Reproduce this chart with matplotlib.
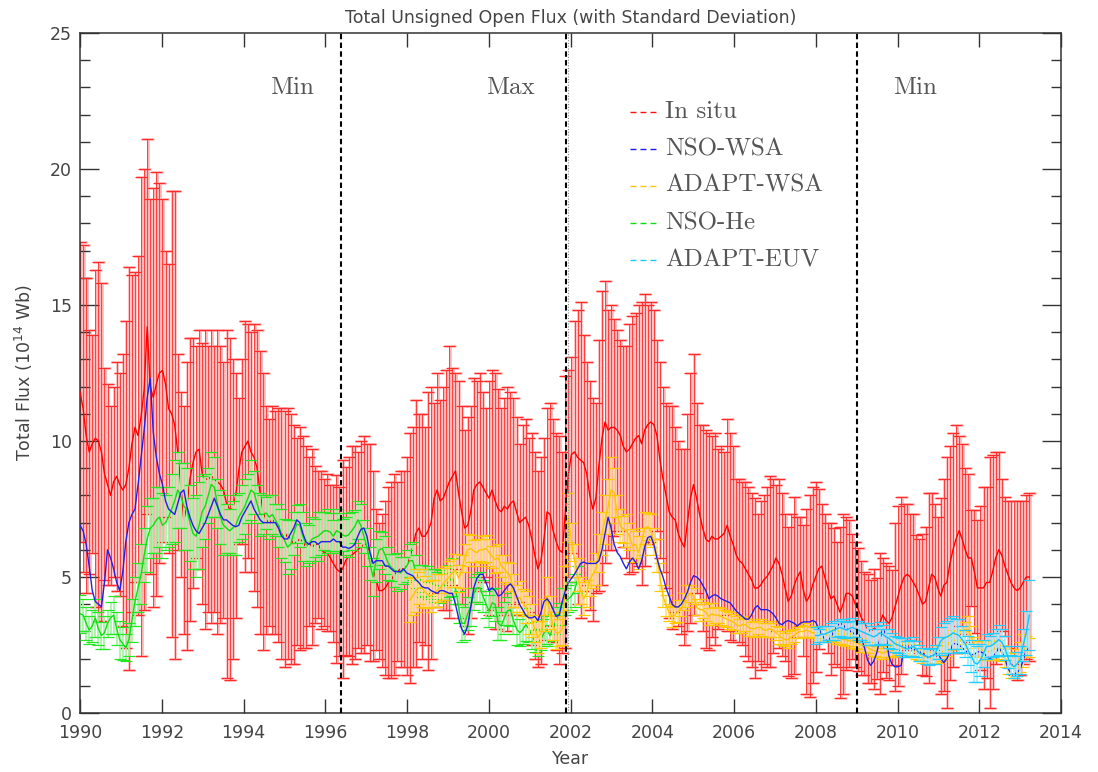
import numpy as np
import matplotlib
matplotlib.use("Agg")
import matplotlib.pyplot as plt
from matplotlib.ticker import MultipleLocator

# Carrington-rotation cadence of all series (years)
CR_YEARS = 27.2753 / 365.25
START_YEAR = 1990.0

# In situ total open flux (1e14 Wb), one value per rotation from 1990.0
insitu_mean = [
    11.8, 11.2, 10.2, 9.6, 9.9, 10.1, 10.0, 9.6, 8.8, 8.4, 8.0, 8.5, 8.7, 8.4,
    8.2, 8.4, 9.0, 9.9, 10.5, 10.2, 10.9, 11.9, 14.2, 12.0, 11.6, 12.1, 12.5,
    12.6, 12.1, 11.2, 11.0, 10.6, 9.6, 8.4, 7.1, 7.6, 8.6, 9.2, 9.6, 9.7, 8.8,
    8.6, 8.6, 8.7, 8.6, 8.5, 8.4, 8.2, 7.7, 7.5, 7.5, 8.0, 8.9, 9.6,
    9.8, 10.0, 9.6, 9.4, 9.0, 8.1, 7.4, 7.1, 7.0, 7.1, 7.0, 6.9, 6.6,
    6.4, 6.6, 6.4, 6.2, 6.3, 6.4, 6.3, 6.1, 6.3, 6.1, 6.2, 6.2, 6.0, 5.9,
    5.9, 5.7, 5.5, 5.3, 5.2, 5.3, 5.6, 5.75, 5.8, 5.9, 6.0, 6.1, 6.2,
    6.2, 5.9, 5.4, 4.9, 4.5, 4.5, 4.6, 4.8, 4.9, 5.1, 5.2, 5.3, 5.3, 5.4,
    5.7, 6.1, 6.6, 6.8, 6.5, 6.5, 6.7, 7.0, 7.9, 8.2, 7.8, 7.9, 8.2,
    8.5, 8.7, 8.9, 8.1, 7.4, 6.8, 6.9, 7.4, 8.2, 8.4, 8.5, 8.3, 8.1,
    7.9, 8.2, 7.8, 7.5, 7.4, 7.6, 7.5, 7.7, 7.8, 7.4, 7.0, 7.1, 7.2, 6.9,
    6.4, 5.8, 5.3, 5.6, 6.4, 7.4, 7.3, 6.7, 6.3, 6.0, 5.9, 7.4, 8.8,
    9.5, 9.6, 9.4, 9.3, 9.2, 8.8, 8.0, 7.5, 7.9, 9.1, 10.1, 10.7, 10.4,
    10.5, 10.5, 10.4, 10.2, 9.8, 9.6, 9.7, 9.9, 10.1, 10.2, 9.9, 10.4, 10.6, 10.7,
    10.6, 10.2, 9.3, 8.6, 8.0, 7.4, 7.2, 7.1, 6.6, 6.3, 6.1, 7.0, 7.9,
    8.4, 7.9, 7.3, 6.8, 6.4, 6.3, 6.5, 6.4, 6.4, 6.5, 6.6, 6.9, 6.5, 6.2,
    5.8, 5.6, 5.5, 5.3, 5.1, 4.9, 4.6, 4.6, 4.7, 4.9, 5.0, 5.2, 5.4,
    5.7, 5.5, 5.1, 4.6, 4.1, 4.3, 4.7, 5.0, 5.2, 4.5, 4.1, 4.3, 4.7,
    5.0, 5.3, 5.4, 5.0, 4.6, 4.2, 4.3, 4.0, 3.7, 4.0, 4.4, 4.4, 4.3, 4.0,
    3.8, 3.5, 3.3, 3.1, 3.0, 3.1, 3.1, 3.3, 3.6, 3.4, 3.3, 3.5, 3.9,
    4.3, 4.7, 5.0, 5.1, 5.0, 4.8, 4.6, 4.3, 4.0, 4.1, 4.6, 5.1, 5.0, 4.6,
    4.3, 4.7, 4.8, 5.5, 6.0, 6.4, 6.7, 6.4, 6.0, 5.7, 5.7, 5.2, 4.6,
    4.6, 4.6, 4.8, 4.8, 5.2, 5.7, 6.0, 5.8, 5.4, 5.1, 4.8, 4.6, 4.5, 4.6,
    4.8, 5.0, 5.0,
]
insitu_std = [
    5.5, 6.0, 5.8, 4.5, 4.0, 6.2, 6.6, 6.2, 3.9, 3.7, 3.3, 3.5, 4.2, 4.1,
    5.0, 6.0, 7.4, 6.2, 5.7, 6.6, 8.8, 8.1, 6.9, 6.9, 7.7, 7.8, 7.0,
    6.3, 4.9, 5.3, 8.2, 8.6, 3.6, 3.4, 4.2, 5.3, 5.2, 4.6, 3.9, 4.4, 4.8,
    5.5, 4.9, 5.4, 4.9, 5.6, 5.1, 4.7, 6.4, 6.3, 5.5, 4.5, 2.7, 3.4,
    4.6, 4.3, 4.4, 4.9, 5.1, 5.2, 5.1, 4.2, 3.8, 4.2, 4.1, 4.3, 4.6,
    4.7, 4.6, 4.6, 4.4, 3.8, 4.1, 3.9, 3.7, 3.1, 3.6, 2.9, 2.7, 2.9, 2.7,
    2.9, 2.7, 2.9, 3.45, 3.1, 4.0, 3.45, 3.65, 4.0, 3.9, 3.6, 3.9, 4.0,
    3.7, 4.0, 3.5, 2.6, 2.5, 2.8, 3.2, 3.5, 3.6, 3.7, 3.3, 3.6, 3.6, 4.0,
    4.6, 4.4, 4.9, 4.2, 4.5, 4.0, 5.1, 5.0, 3.5, 4.3, 3.7, 4.1, 4.4,
    5.0, 4.0, 3.6, 4.1, 3.9, 3.6, 4.0, 3.9, 4.1, 3.8, 4.0, 3.5, 3.1,
    4.3, 4.4, 4.7, 4.4, 3.8, 4.0, 4.5, 4.1, 3.8, 3.5, 2.9, 3.5, 3.6, 3.2,
    3.9, 3.8, 3.6, 3.8, 3.7, 3.8, 4.1, 4.1, 4.0, 4.2, 3.7, 5.0, 3.8,
    3.6, 4.8, 5.4, 5.8, 4.7, 4.1, 4.2, 4.1, 3.5, 4.6, 5.4, 5.2, 4.4,
    4.5, 4.0, 3.7, 3.5, 3.7, 3.9, 4.6, 4.7, 4.6, 4.8, 5.2, 5.0, 4.4, 4.4,
    4.2, 3.5, 3.6, 3.4, 3.4, 3.9, 4.1, 3.4, 3.4, 3.4, 3.6, 4.0, 4.6,
    4.8, 3.5, 3.3, 3.8, 4.0, 4.0, 3.7, 3.9, 3.3, 3.3, 3.0, 3.9, 3.8, 3.6,
    2.8, 3.0, 3.0, 3.2, 3.2, 3.2, 3.3, 2.7, 3.1, 3.1, 3.3, 3.5, 3.2,
    2.7, 3.1, 3.0, 2.7, 2.75, 3.0, 3.25, 2.2, 2.0, 2.4, 3.4, 3.7, 3.6,
    3.5, 2.95, 2.3, 2.3, 2.4, 2.8, 2.5, 2.3, 3.15, 3.3, 2.8, 2.7, 2.3, 2.3,
    2.25, 2.1, 1.9, 2.0, 1.9, 2.2, 1.85, 2.6, 2.1, 2.1, 2.1, 1.75, 3.1,
    3.3, 3.25, 2.7, 2.6, 2.3, 2.5, 1.95, 2.1, 2.6, 2.75, 3.5, 3.0, 2.7, 2.6,
    3.6, 3.9, 4.6, 4.3, 4.3, 4.2, 3.5, 3.5, 3.0, 3.1, 1.75, 2.25, 2.5,
    3.0, 3.7, 3.5, 4.6, 4.3, 3.9, 3.6, 2.8, 2.55, 2.7, 3.0, 3.2, 3.3, 3.2,
    3.0, 3.0, 3.1,
]

# NSO-WSA model flux, same rotations as the in situ series
nso_wsa = [
    6.9, 6.7, 6.2, 5.4, 4.5, 4.1, 4.0, 3.9, 4.8, 6.0, 5.7, 5.3, 4.8, 4.5,
    5.2, 6.3, 7.0, 7.3, 7.5, 8.4, 9.4, 10.4, 11.6, 12.3, 10.3, 9.4, 8.8,
    8.4, 7.8, 7.5, 7.4, 7.3, 7.7, 8.1, 8.2, 7.6, 7.2, 6.9, 6.7, 6.6, 6.8,
    7.0, 7.3, 7.6, 7.9, 7.6, 7.3, 7.1, 7.1, 7.0, 6.9, 6.85, 6.9, 7.2,
    7.4, 7.6, 7.8, 7.5, 7.3, 7.1, 7.0, 7.0, 7.0, 7.0, 7.0, 6.8, 6.5,
    6.4, 6.4, 6.6, 6.8, 7.1, 7.0, 6.6, 6.3, 6.2, 6.3, 6.3, 6.2, 6.3, 6.3,
    6.3, 6.3, 6.4, 6.3, 6.3, 6.1, 6.1, 6.05, 6.1, 6.2, 6.5, 6.75, 6.8,
    6.5, 5.9, 5.5, 5.6, 5.6, 5.6, 5.4, 5.4, 5.3, 5.2, 5.2, 5.2, 5.3, 5.15,
    5.1, 5.05, 4.9, 4.8, 4.65, 4.6, 4.6, 4.5, 4.45, 4.4, 4.5, 4.5, 4.45,
    4.4, 4.4, 4.0, 3.5, 3.1, 2.9, 3.2, 3.9, 4.6, 4.95, 5.1, 5.1, 4.8,
    4.5, 4.6, 4.5, 4.3, 4.35, 4.5, 4.65, 4.75, 4.6, 4.3, 4.0, 3.8, 3.6, 3.5,
    3.5, 3.55, 3.4, 3.7, 4.1, 4.2, 4.05, 3.8, 3.55, 3.6, 4.1, 4.5, 4.8,
    4.95, 5.1, 5.3, 5.5, 5.55, 5.5, 5.5, 5.5, 5.5, 5.6, 6.0, 6.6, 7.2,
    6.8, 6.2, 5.9, 5.75, 5.5, 5.3, 5.55, 5.7, 5.55, 5.3, 5.6, 6.1, 6.45, 6.5,
    6.2, 5.7, 5.3, 5.0, 4.6, 4.3, 4.0, 3.9, 3.9, 4.0, 4.2, 4.45, 4.8,
    5.05, 5.0, 4.9, 4.7, 4.5, 4.2, 4.3, 4.35, 4.3, 4.2, 4.15, 4.1, 4.05, 3.9,
    3.75, 3.65, 3.55, 3.45, 3.45, 3.6, 3.85, 3.95, 3.8, 3.8, 3.8, 3.75, 3.65,
    3.5, 3.3, 3.25, 3.35, 3.4, 3.35, 3.3, 3.2, 3.3, 3.35, 3.35, 3.35, 3.4,
    3.35, 3.1, 2.9, 2.7, 2.65, 2.8, 3.0, 3.2, 3.3, 3.25, 3.1, 3.05, 2.95, 2.9,
    2.9, 2.75, 2.4, 1.95, 1.75, 1.9, 2.2, 2.7, 3.1, 2.9, 2.1, 1.8, 1.7,
    1.7, 1.75, 2.35, 2.45, 2.4, 2.35, 2.3, 2.25, 2.2, 2.1, 2.05, 2.1, 2.15, 2.2,
    2.0, 1.85, 2.0, 2.25, 2.55, 2.55, 2.5, 2.4, 2.3, 2.2, 2.15, 2.15, 2.25,
    2.25, 2.2, 2.1, 2.0, 2.05, 2.2, 2.4, 2.25, 2.0, 1.65, 1.45, 1.4, 1.5, 1.6,
    1.95, 2.3, 2.4,
]

# NSO-He model flux and spread, from 1990.0
nso_he_mean = [
    3.65, 3.6, 3.3, 3.05, 3.2, 3.5, 3.1, 2.85, 2.95, 3.3, 3.5, 3.6, 3.1, 2.7,
    2.55, 2.4, 2.7, 3.4, 4.1, 4.6, 5.1, 5.8, 6.4, 6.8, 6.9, 7.1, 7.2,
    6.9, 7.0, 7.2, 7.5, 7.8, 8.2, 8.0, 7.6, 7.5, 7.0, 6.6, 6.5, 6.9, 7.4,
    7.6, 8.0, 8.4, 8.3, 7.7, 7.2, 6.9, 6.8, 6.7, 6.8, 6.9, 7.2, 7.4,
    7.6, 7.9, 8.2, 8.1, 7.7, 7.3, 7.3, 7.35, 7.2, 7.3, 7.1, 6.9, 6.6,
    6.35, 6.1, 6.2, 6.6, 6.95, 6.9, 6.5, 6.2, 6.2, 6.4, 6.45, 6.5, 6.6, 6.7,
    6.7, 6.65, 6.5, 6.7, 6.65, 6.55, 6.5, 6.55, 6.7, 6.85, 7.1, 6.9, 6.5,
    6.1, 5.5, 5.0, 5.6, 6.0, 6.05, 5.8, 5.5, 5.35, 5.25, 5.2, 5.15, 5.25, 5.4,
    5.6, 5.6, 5.2, 4.95, 4.85, 4.8, 4.8, 4.8, 4.7, 4.7, 4.65, 4.65, 4.75,
    4.85, 5.0, 4.6, 3.9, 3.3, 3.3, 3.65, 3.9, 4.4, 4.6, 4.6, 4.3, 4.0,
    3.75, 4.05, 4.0, 3.3, 3.2, 3.5, 3.75, 3.8, 3.4, 3.1, 2.95, 3.05, 3.25, 3.1,
    2.85, 2.65, 2.6, 2.7, 2.95, 3.05, 2.85, 3.15, 3.4, 3.65, 4.1, 4.1, 4.2,
    4.3, 4.5, 4.9,
]
nso_he_std = [
    0.7, 0.6, 0.6, 0.5, 0.6, 0.7, 0.6, 0.5, 0.6, 0.5, 0.6, 0.7, 0.6, 0.7,
    0.6, 0.5, 0.6, 0.8, 0.9, 0.9, 1.1, 1.0, 1.2, 1.1, 1.0, 1.2, 1.1,
    1.2, 1.0, 1.1, 1.3, 1.5, 1.4, 1.2, 1.6, 1.5, 1.4, 1.3, 1.5, 1.6, 1.3,
    1.2, 1.0, 1.2, 1.1, 0.9, 1.0, 1.1, 0.9, 0.8, 1.0, 1.1, 0.9, 1.0,
    1.0, 0.9, 1.1, 0.8, 0.7, 0.8, 0.7, 0.6, 0.8, 0.7, 0.6, 0.8, 0.9,
    0.8, 1.0, 0.9, 0.8, 0.7, 0.8, 0.9, 0.8, 0.7, 0.8, 0.7, 0.9, 0.8, 0.7,
    0.8, 0.7, 0.6, 0.8, 0.7, 0.6, 0.7, 0.8, 0.7, 0.6, 0.7, 0.8, 0.6,
    0.7, 0.6, 0.7, 0.8, 0.7, 0.6, 0.7, 0.6, 0.5, 0.6, 0.7, 0.6, 0.5, 0.6,
    0.6, 0.7, 0.6, 0.5, 0.6, 0.5, 0.6, 0.5, 0.6, 0.5, 0.6, 0.5, 0.6,
    0.6, 0.7, 0.6, 0.6, 0.7, 0.6, 0.6, 0.7, 0.6, 0.5, 0.6, 0.6, 0.5,
    0.6, 0.5, 0.6, 0.6, 0.5, 0.6, 0.5, 0.6, 0.5, 0.6, 0.5, 0.5, 0.6, 0.5,
    0.5, 0.4, 0.5, 0.4, 0.5, 0.5, 0.4, 0.5, 0.5, 0.4, 0.5, 0.5, 0.5,
    0.5, 0.6, 0.5,
]

# ADAPT-WSA model flux and spread, starting at rotation index 108 (1998)
adapt_wsa_first = 108
adapt_wsa_mean = [
    4.15, 4.3, 4.5, 4.6, 4.6, 4.45, 4.35, 4.3, 4.4, 4.5, 4.6, 4.75, 4.9,
    5.0, 5.15, 5.25, 4.95, 5.2, 5.7, 6.0, 6.05, 5.95, 5.9, 6.0, 6.0, 6.05,
    5.9, 5.75, 5.65, 5.7, 5.4, 5.3, 5.15, 5.0, 4.5, 4.2, 4.25, 4.05, 3.9, 3.6,
    3.4, 3.1, 2.8, 2.9, 3.6, 4.3, 3.7, 3.2, 2.95, 2.95, 3.1, 4.6, 7.2,
    6.3, 5.6, 5.1, 4.5, 4.2, 4.4, 4.9, 5.1, 5.3, 5.9, 6.6, 7.1, 7.6,
    8.2, 8.1, 7.3, 6.9, 6.75, 6.7, 6.5, 6.15, 6.2, 5.9, 6.3, 6.8, 6.85, 6.7,
    6.3, 5.8, 5.0, 4.3, 3.95, 3.7, 3.55, 3.6, 3.75, 3.85, 4.1, 4.3, 4.4,
    4.3, 3.9, 3.8, 3.8, 3.7, 3.55, 3.65, 3.6, 3.6, 3.55, 3.5, 3.45, 3.4, 3.35,
    3.25, 3.2, 3.25, 3.25, 3.15, 3.1, 3.1, 3.15, 3.15, 3.05, 3.05, 3.1, 3.05,
    2.95, 2.85, 2.75, 2.7, 2.7, 2.8, 2.85, 2.95, 3.0, 3.0, 3.05, 3.0, 2.95,
    2.95, 2.95, 2.9, 2.9, 2.85, 2.85, 2.8, 2.8, 2.75, 2.7, 2.7, 2.65, 2.65, 2.6,
    2.55, 2.5, 2.45, 2.4, 2.35, 2.3, 2.25, 2.25, 2.2, 2.25, 2.25, 2.3, 2.3,
    2.35, 2.35, 2.4, 2.4, 2.35, 2.3, 2.2, 2.15, 2.1, 2.05, 2.0, 2.05, 2.1, 2.15,
    2.2, 2.3, 2.45, 2.6, 2.7, 2.65, 2.6, 2.75, 2.95, 3.05, 2.8, 2.45, 2.4,
    2.35, 2.3, 2.3, 2.25, 2.3, 2.4, 2.35, 2.2, 2.05, 1.85, 1.75, 1.7, 1.85, 2.05,
    2.3, 2.45, 2.4,
]
adapt_wsa_std = [
    0.8, 0.7, 0.8, 0.6, 0.7, 0.6, 0.5, 0.6, 0.5, 0.6, 0.5, 0.6, 0.5,
    0.6, 0.5, 0.6, 0.5, 0.6, 0.5, 0.6, 0.5, 0.4, 0.5, 0.4, 0.5, 0.5,
    0.5, 0.4, 0.5, 0.5, 0.4, 0.5, 0.4, 0.5, 0.6, 0.5, 0.6, 0.5, 0.6, 0.7,
    0.6, 0.5, 0.6, 0.5, 0.6, 0.7, 0.6, 0.5, 0.6, 0.5, 0.6, 0.8, 0.9,
    0.7, 0.6, 0.6, 0.5, 0.6, 0.5, 0.6, 0.5, 0.6, 0.7, 0.8, 0.9, 1.0,
    1.2, 0.9, 0.7, 0.6, 0.5, 0.6, 0.5, 0.6, 0.5, 0.6, 0.5, 0.6, 0.5, 0.6,
    0.5, 0.6, 0.5, 0.4, 0.4, 0.3, 0.4, 0.3, 0.4, 0.3, 0.3, 0.4, 0.3,
    0.3, 0.3, 0.4, 0.3, 0.3, 0.3, 0.4, 0.3, 0.3, 0.3, 0.3, 0.3, 0.3, 0.3,
    0.3, 0.25, 0.3, 0.25, 0.3, 0.25, 0.3, 0.25, 0.3, 0.25, 0.25, 0.3, 0.25,
    0.25, 0.3, 0.25, 0.25, 0.3, 0.25, 0.25, 0.2, 0.25, 0.2, 0.25, 0.2, 0.2,
    0.2, 0.25, 0.2, 0.2, 0.25, 0.2, 0.2, 0.25, 0.2, 0.2, 0.25, 0.2, 0.25, 0.2,
    0.2, 0.25, 0.2, 0.2, 0.25, 0.2, 0.2, 0.25, 0.2, 0.2, 0.2, 0.25, 0.2,
    0.2, 0.25, 0.2, 0.25, 0.2, 0.25, 0.2, 0.2, 0.25, 0.2, 0.25, 0.2, 0.25, 0.3,
    0.3, 0.3, 0.35, 0.3, 0.35, 0.3, 0.4, 0.35, 0.4, 0.5, 0.4, 0.35, 0.3,
    0.3, 0.35, 0.3, 0.3, 0.35, 0.3, 0.35, 0.3, 0.35, 0.4, 0.45, 0.4, 0.5, 0.55,
    0.6, 0.4, 0.35,
]

# ADAPT-EUV model flux and spread, starting at rotation index 241 (2008)
adapt_euv_first = 241
adapt_euv_mean = [
    2.85, 2.85, 2.9, 2.9, 2.95, 3.0, 3.05, 3.1, 3.15, 3.1, 3.05, 3.1, 3.15, 3.1,
    3.05, 3.0, 2.95, 2.9, 2.85, 2.8, 2.85, 2.95, 2.9, 2.8, 2.75, 2.65, 2.55,
    2.5, 2.45, 2.4, 2.35, 2.4, 2.45, 2.35, 2.2, 2.15, 2.1, 2.05, 2.1, 2.15, 2.4,
    2.65, 2.75, 2.8, 2.85, 2.95, 2.9, 2.85, 2.7, 2.55, 2.3, 2.1, 1.85, 1.8,
    1.95, 2.2, 2.45, 2.45, 2.5, 2.6, 2.7, 2.6, 2.4, 2.05, 1.8, 1.7, 1.8, 1.95,
    2.5, 2.95, 3.6,
]
adapt_euv_std = [
    0.3, 0.25, 0.3, 0.3, 0.25, 0.3, 0.35, 0.3, 0.3, 0.35, 0.3, 0.3, 0.35, 0.3,
    0.35, 0.3, 0.35, 0.4, 0.35, 0.3, 0.35, 0.4, 0.35, 0.3, 0.35, 0.3, 0.3,
    0.3, 0.3, 0.35, 0.3, 0.3, 0.35, 0.3, 0.3, 0.25, 0.3, 0.3, 0.3, 0.35, 0.4,
    0.5, 0.55, 0.6, 0.65, 0.6, 0.55, 0.6, 0.5, 0.5, 0.55, 0.6, 0.7, 0.65,
    0.6, 0.5, 0.45, 0.4, 0.45, 0.5, 0.55, 0.5, 0.45, 0.4, 0.35, 0.4, 0.45, 0.5,
    0.6, 0.8, 1.3,
]

# Solar-cycle phase boundaries and labels
boundary_years = [1996.38, 2001.89, 2009.0]
phase_labels = ["Min", "Max", "Min"]
phase_label_years = [1995.19, 2000.54, 2010.43]

series_labels = ["In situ", "NSO-WSA", "ADAPT-WSA", "NSO-He", "ADAPT-EUV"]
series_colors = ["#ff1010", "#1a1aee", "#ffc400", "#10e010", "#18c8ff"]


def rotation_years(first, n):
    return START_YEAR + CR_YEARS * (first + np.arange(n))


fig = plt.figure(figsize=(10.98, 7.72), dpi=100)
ax = fig.add_axes([0.0729, 0.0764, 0.8934, 0.8808])

# In situ: pink halo under thin red error bars, then the mean curve
t_ins = rotation_years(0, len(insitu_mean))
ax.errorbar(t_ins + 0.012, insitu_mean, yerr=insitu_std, fmt="none",
            ecolor="#ffb0b0", elinewidth=1.8, capsize=4.2, capthick=1.8, zorder=1)
ax.errorbar(t_ins, insitu_mean, yerr=insitu_std, fmt="none", ecolor="#ff2a2a",
            elinewidth=0.6, capsize=4.2, capthick=0.8, zorder=2)
ax.plot(t_ins, insitu_mean, color="#ff0000", lw=1.0, zorder=3)


def model_with_spread(first, mean, std, bar_color, cap_color, line_color, z):
    t = rotation_years(first, len(mean))
    _, caps, _ = ax.errorbar(t, mean, yerr=std, fmt="none", ecolor=bar_color,
                             elinewidth=1.3, capsize=4.5, capthick=0.9, zorder=z)
    for c in caps:
        c.set_markeredgecolor(cap_color)
    ax.plot(t, mean, color=line_color, lw=1.0, zorder=z + 0.5)


model_with_spread(0, nso_he_mean, nso_he_std, "#a6f5a6", "#22e822", "#12dd12", 4)
model_with_spread(adapt_wsa_first, adapt_wsa_mean, adapt_wsa_std,
                  "#ffe48a", "#ffc800", "#ffc400", 5)
ax.plot(rotation_years(0, len(nso_wsa)), nso_wsa, color="#2020e8", lw=1.0, zorder=6)
model_with_spread(adapt_euv_first, adapt_euv_mean, adapt_euv_std,
                  "#a8ecff", "#20cfff", "#10c4ff", 7)

# Phase boundaries
ax.axvline(boundary_years[0], color="black", lw=1.5, ls=(0, (2.6, 1.6)), zorder=10)
ax.axvline(boundary_years[1], color="black", lw=1.5, ls=(0, (2.6, 1.6)), zorder=10)
ax.axvline(boundary_years[1] + 0.04, color="#888888", lw=0.8, ls=(0, (1, 1.5)), zorder=10)
ax.axvline(boundary_years[2], color="black", lw=1.5, ls=(0, (2.6, 1.6)), zorder=10)

serif = ["cmr10", "DejaVu Serif"]
for lab, xl in zip(phase_labels, phase_label_years):
    ax.text(xl, 23.0, lab, fontsize=18, family=serif, color="#555555",
            ha="center", va="center", zorder=11)

# Legend: short dashed samples followed by the series name
row_y = [0.8843, 0.8294, 0.7754, 0.7201, 0.6662]
for lab, col, yy in zip(series_labels, series_colors, row_y):
    ax.plot([0.5607, 0.5875], [yy, yy], transform=ax.transAxes, color=col,
            lw=1.0, ls=(0, (4.3, 2.9)), zorder=12, clip_on=False)
    ax.text(0.5963, yy, lab, transform=ax.transAxes, fontsize=18, family=serif,
            color="#555555", ha="left", va="center", zorder=12)

ax.set_xlim(1990, 2014)
ax.set_ylim(0, 25)
ax.xaxis.set_major_locator(MultipleLocator(2))
ax.yaxis.set_major_locator(MultipleLocator(5))
ax.yaxis.set_minor_locator(MultipleLocator(1))

for s in ax.spines.values():
    s.set_color("#333333")
    s.set_linewidth(1.1)

ax.tick_params(which="both", direction="in", top=True, right=True,
               color="#333333", labelcolor="#444444", labelsize=12.5)
ax.tick_params(axis="x", which="major", length=10, width=1.0, pad=8)
ax.tick_params(axis="y", which="major", length=14, width=1.0, pad=6)
ax.tick_params(axis="y", which="minor", length=7, width=1.0)

plt.rcParams["mathtext.default"] = "regular"
ax.set_ylabel("Total Flux (10$^{14}$ Wb)", fontsize=12.5, color="#444444")
ax.yaxis.set_label_coords(-0.046, 0.5)
ax.set_xlabel("Year", fontsize=12.5, color="#444444")
ax.xaxis.set_label_coords(0.5, -0.054)
ax.set_title("Total Unsigned Open Flux (with Standard Deviation)",
             fontsize=12.5, color="#444444", pad=7)

fig.savefig("out.png", dpi=100)
